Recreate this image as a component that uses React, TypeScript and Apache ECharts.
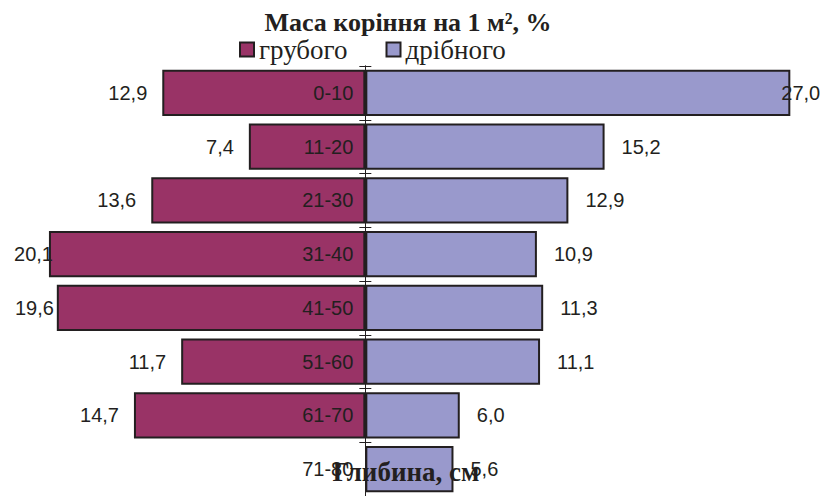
import React, { useEffect, useRef } from "react";
import * as echarts from "echarts";

const categories = ["0-10", "11-20", "21-30", "31-40", "41-50", "51-60", "61-70", "71-80"];
const coarseValues: (number | null)[] = [12.9, 7.4, 13.6, 20.1, 19.6, 11.7, 14.7, null];
const fineValues: number[] = [27.0, 15.2, 12.9, 10.9, 11.3, 11.1, 6.0, 5.6];
const seriesNames = ["грубого", "дрібного"];
const titleText = "Маса коріння на 1 м², %";
const axisTitleText = "Глибина, см";

const fmt = (v: number) => Math.abs(v).toFixed(1).replace(".", ",");

export default function App() {
  const ref = useRef<HTMLDivElement>(null);
  useEffect(() => {
    if (!ref.current) return;
    const chart = echarts.init(ref.current, null, { renderer: "svg" });
    const dark = "#231f20";
    const labelFont = { fontFamily: "Liberation Sans", fontSize: 20, color: dark };
    const leftOffsets: Record<number, [number, number]> = { 3: [19, 0], 4: [12, 0] };
    const rightOffsets: Record<number, [number, number]> = { 0: [-26, 0] };
    chart.setOption({
      animation: false,
      backgroundColor: "#ffffff",
      grid: { left: 3.3, right: 5.2, top: 66, bottom: 0, outerBoundsMode: "none" },
      legend: {
        left: 239,
        top: 36,
        padding: 0,
        itemWidth: 14,
        itemHeight: 14,
        itemGap: 38,
        icon: "rect",
        textStyle: { fontFamily: "Liberation Serif", fontSize: 27, color: dark },
        data: seriesNames,
      },
      xAxis: {
        type: "value",
        min: -23,
        max: 29,
        show: true,
        axisLine: { show: false },
        axisTick: { show: false },
        axisLabel: { show: false },
        splitLine: { show: false },
      },
      yAxis: [
        {
          type: "category",
          data: categories,
          inverse: true,
          z: 5,
          axisLine: { onZero: true, onZeroAxisIndex: 0, lineStyle: { color: dark, width: 1 } },
          axisTick: { show: true, length: 6, lineStyle: { color: dark, width: 1 } },
          axisLabel: { show: false },
        },
        {
          type: "category",
          data: categories,
          inverse: true,
          position: "right",
          z: 5,
          axisLine: { onZero: true, onZeroAxisIndex: 0, lineStyle: { color: dark, width: 1 } },
          axisTick: { show: true, length: 6, lineStyle: { color: dark, width: 1 } },
          axisLabel: { show: false },
        },
      ],
      series: [
        {
          name: "categoryLabels",
          type: "bar",
          stack: "s",
          z: 4,
          barCategoryGap: "14%",
          itemStyle: { color: "transparent", borderWidth: 0 },
          label: {
            show: true,
            position: "left",
            distance: 12,
            ...labelFont,
            formatter: (p: any) => categories[p.dataIndex],
          },
          tooltip: { show: false },
          data: categories.map(() => 0),
        },
        {
          name: seriesNames[0],
          type: "bar",
          stack: "s",
          barCategoryGap: "14%",
          itemStyle: { color: "#993366", borderColor: dark, borderWidth: 2 },
          label: {
            show: true,
            position: "left",
            distance: 15,
            ...labelFont,
            formatter: (p: any) => fmt(p.value),
          },
          data: coarseValues.map((v, i) =>
            v == null
              ? null
              : leftOffsets[i]
              ? { value: -v, label: { offset: leftOffsets[i] } }
              : -v
          ),
        },
        {
          name: seriesNames[1],
          type: "bar",
          stack: "s",
          barCategoryGap: "14%",
          itemStyle: { color: "#9999cc", borderColor: dark, borderWidth: 2 },
          label: {
            show: true,
            position: "right",
            distance: 17,
            ...labelFont,
            formatter: (p: any) => fmt(p.value),
          },
          data: fineValues.map((v, i) =>
            rightOffsets[i] ? { value: v, label: { offset: rightOffsets[i] } } : v
          ),
        },
      ],
      graphic: [
        {
          type: "text",
          x: 408,
          y: 22,
          z: 100,
          style: {
            text: titleText,
            fontFamily: "Liberation Serif",
            fontWeight: "bold",
            fontSize: 26,
            fill: dark,
            textAlign: "center",
            textVerticalAlign: "middle",
          },
        },
        {
          type: "text",
          x: 406,
          y: 472,
          z: 100,
          style: {
            text: axisTitleText,
            fontFamily: "Liberation Serif",
            fontWeight: "bold",
            fontSize: 27,
            fill: dark,
            textAlign: "center",
            textVerticalAlign: "middle",
          },
        },
      ],
    });
    return () => chart.dispose();
  }, []);
  return (
    <div
      ref={ref}
      style={{ position: "fixed", left: 0, top: 0, width: 827, height: 496 }}
    />
  );
}
